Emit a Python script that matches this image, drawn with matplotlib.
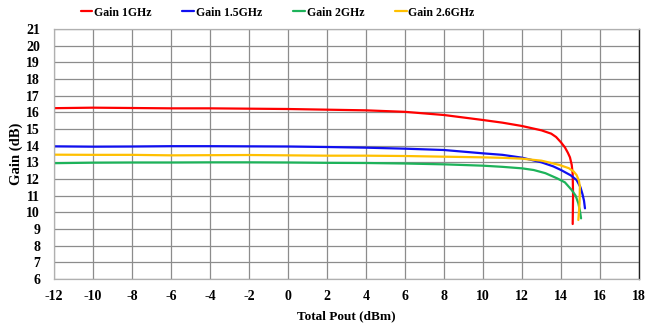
import matplotlib
matplotlib.use("Agg")
import matplotlib.pyplot as plt

plt.rcParams['font.family'] = ['Liberation Serif', 'DejaVu Serif']
plt.rcParams['font.weight'] = 'bold'
plt.rcParams['axes.unicode_minus'] = False

# Gain vs. total output power, per carrier frequency
pout_1g = [-12, -10, -8, -6, -4, -2, 0, 2, 4, 6, 8, 10, 11, 12, 13, 13.5, 13.75, 14.0, 14.2, 14.35, 14.46,
           14.55, 14.6, 14.62, 14.6]
gain_1g = [16.25, 16.28, 16.26, 16.24, 16.24, 16.22, 16.20, 16.16, 16.12, 16.03, 15.84, 15.54, 15.38, 15.18,
           14.92, 14.72, 14.52, 14.2, 13.9, 13.58, 13.3, 12.85, 12.3, 11.0, 9.3]

pout_1g5 = [-12, -10, -8, -6, -4, -2, 0, 2, 4, 6, 8, 10, 11, 12, 13, 13.6, 14, 14.5, 14.8, 15.0, 15.1, 15.18,
            15.23]
gain_1g5 = [13.96, 13.94, 13.95, 13.97, 13.97, 13.96, 13.95, 13.92, 13.88, 13.82, 13.74, 13.54, 13.45, 13.28,
            13.0, 12.76, 12.54, 12.22, 11.94, 11.5, 11.1, 10.7, 10.24]

pout_2g = [-12, -10, -8, -6, -4, -2, 0, 2, 4, 6, 8, 10, 11, 12, 12.6, 13.2, 13.8, 14.2, 14.55, 14.75, 14.89,
           14.97, 15.03]
gain_2g = [12.95, 12.98, 12.99, 12.99, 13.0, 13.0, 12.99, 12.97, 12.96, 12.93, 12.88, 12.80, 12.73, 12.64,
           12.54, 12.35, 12.04, 11.8, 11.34, 11.0, 10.54, 10.1, 9.64]

pout_2g6 = [-12, -10, -8, -6, -4, -2, 0, 2, 4, 6, 8, 10, 11, 12, 13, 13.9, 14.4, 14.65, 14.8, 14.92, 14.97,
            14.95, 14.89]
gain_2g6 = [13.46, 13.45, 13.45, 13.42, 13.43, 13.44, 13.42, 13.40, 13.40, 13.38, 13.34, 13.30, 13.27, 13.22,
            13.1, 12.85, 12.65, 12.45, 12.24, 11.9, 11.54, 10.5, 9.54]

series_labels = ['Gain 1GHz', 'Gain 1.5GHz', 'Gain 2GHz', 'Gain 2.6GHz']
series_colors = ['#ff0000', '#1010f0', '#1db35a', '#ffc000']

x_ticks = list(range(-12, 19, 2))
y_ticks = list(range(6, 22))

fig = plt.figure(figsize=(6.61, 3.30), dpi=100)
ax = fig.add_axes([0.0817, 0.1545, 0.885, 0.7576])

series = [(pout_1g, gain_1g), (pout_1g5, gain_1g5), (pout_2g, gain_2g), (pout_2g6, gain_2g6)]
for (x, y), lab, col in zip(series, series_labels, series_colors):
    ax.plot(x, y, color=col, lw=1.6, label=lab, solid_capstyle='round', solid_joinstyle='round')

ax.set_xlim(-12, 18)
ax.set_ylim(6, 21)
ax.set_xticks(x_ticks)
ax.set_yticks(y_ticks)
ax.tick_params(length=0, labelsize=10)
ax.tick_params(axis='y', pad=10)
ax.tick_params(axis='x', pad=8)
for lbl in ax.get_xticklabels() + ax.get_yticklabels():
    lbl.set_fontweight('bold')

ax.grid(True, color='#8c8c8c', lw=0.9)
ax.set_axisbelow(True)
for side in ['left', 'bottom', 'top']:
    ax.spines[side].set_color('#b0b0b0')
    ax.spines[side].set_linewidth(0.9)
ax.spines['right'].set_color('#202020')
ax.spines['right'].set_linewidth(1.0)

ax.set_xlabel('Total Pout (dBm)', fontsize=9.5, fontweight='bold', labelpad=5)
ax.set_ylabel('Gain (dB)', fontsize=10.5, fontweight='bold', labelpad=2)

fig.legend(loc='center left', bbox_to_anchor=(0.122, 0.962), ncol=4, frameon=False,
           prop={'size': 8.5, 'weight': 'bold'}, handlelength=1.0, handletextpad=0.15,
           columnspacing=2.6, borderaxespad=0, borderpad=0)

fig.savefig('out.png', dpi=100)
